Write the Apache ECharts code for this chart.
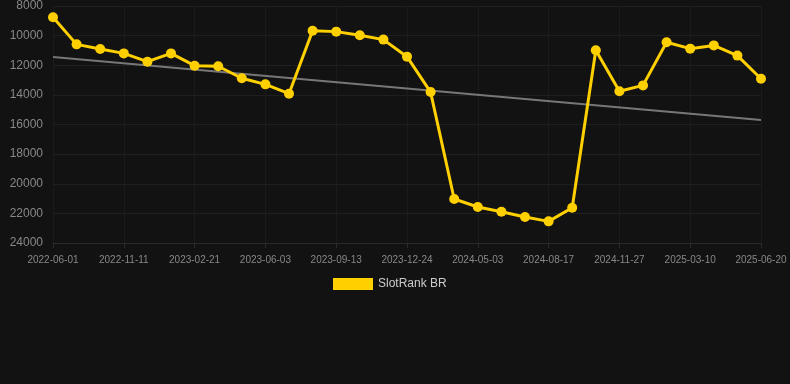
<!DOCTYPE html>
<html>
<head>
<meta charset="utf-8">
<script src="https://cdn.jsdelivr.net/npm/echarts@6/dist/echarts.min.js"></script>
<style>
html,body{margin:0;padding:0;background:#121212;}
#chart{width:790px;height:384px;}
</style>
</head>
<body>
<div id="chart"></div>
<script>
var categories = ['2022-06-01','2022-07-25','2022-09-17','2022-11-11','2022-12-15','2023-01-18','2023-02-21','2023-03-26','2023-04-30','2023-06-03','2023-07-07','2023-08-10','2023-09-13','2023-10-17','2023-11-20','2023-12-24','2024-02-06','2024-03-20','2024-05-03','2024-06-07','2024-07-12','2024-08-17','2024-09-19','2024-10-23','2024-11-27','2024-12-31','2025-02-04','2025-03-10','2025-04-13','2025-05-17','2025-06-20'];
var rankValues = [8760,10590,10900,11200,11760,11200,12030,12070,12880,13290,13920,9670,9730,9980,10270,11420,13810,21030,21570,21890,22250,22540,21620,10990,13760,13360,10450,10880,10660,11350,12910];
var trendStart = 11440;
var trendEnd = 15700;
var seriesName = 'SlotRank BR';

var chart = echarts.init(document.getElementById('chart'));
chart.setOption({
  backgroundColor: '#121212',
  animation: false,
  grid: {left: 53, right: 29, top: 6, bottom: 141, containLabel: false},
  legend: {
    top: 273, left: 328,
    itemWidth: 40, itemHeight: 12, itemGap: 10,
    data: [{name: seriesName, icon: 'rect'}],
    textStyle: {color: '#cccccc', fontSize: 12}
  },
  xAxis: {
    type: 'category',
    data: categories,
    boundaryGap: false,
    axisLine: {show: true, lineStyle: {color: '#2a2a2a'}},
    axisTick: {show: true, interval: 2, lineStyle: {color: '#2a2a2a'}},
    axisLabel: {color: '#888888', fontSize: 10, interval: 2, margin: 12},
    splitLine: {show: true, interval: 2, lineStyle: {color: '#1b1b1b'}}
  },
  yAxis: {
    type: 'value',
    inverse: true,
    min: 8000, max: 24000, interval: 2000,
    axisLine: {show: false},
    axisTick: {show: false},
    axisLabel: {color: '#888888', fontSize: 12, margin: 10, formatter: function (v) { return String(v); }},
    splitLine: {show: true, lineStyle: {color: '#1f1f1f'}}
  },
  series: [
    {
      name: 'trend',
      type: 'line',
      data: [[categories[0], trendStart], [categories[categories.length-1], trendEnd]],
      symbol: 'none',
      lineStyle: {color: '#777777', width: 2},
      silent: true,
      z: 1
    },
    {
      name: seriesName,
      type: 'line',
      data: rankValues,
      symbol: 'circle',
      symbolSize: 10,
      itemStyle: {color: '#FFD000'},
      lineStyle: {color: '#FFD000', width: 3},
      z: 2
    }
  ]
});
</script>
</body>
</html>
